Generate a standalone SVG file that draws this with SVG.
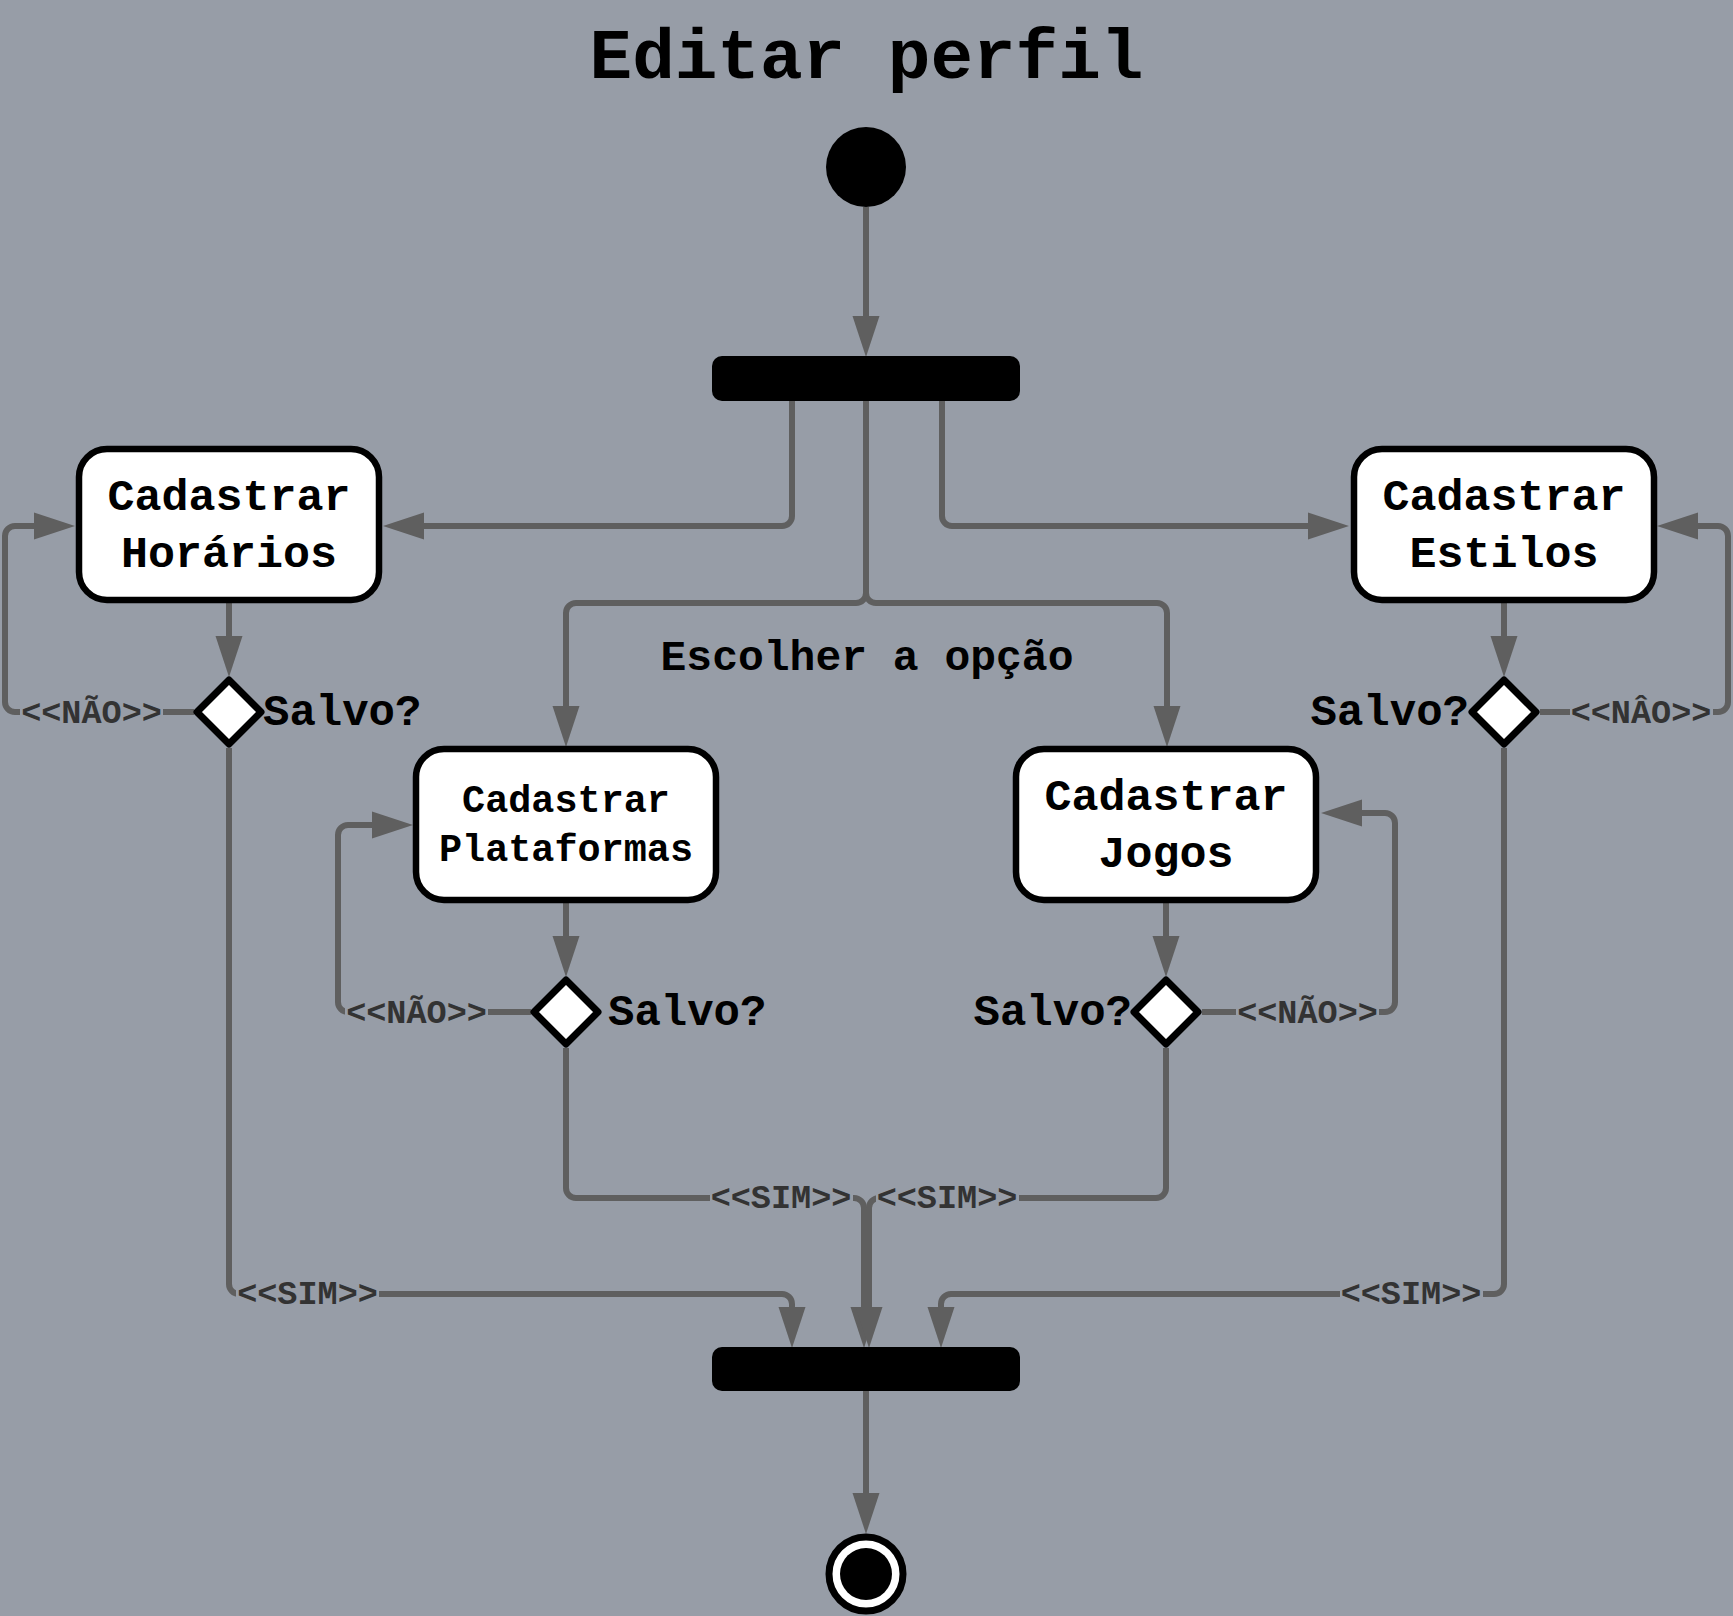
<svg xmlns="http://www.w3.org/2000/svg" width="1733" height="1616" viewBox="0 0 1733 1616">
<style>
.bg{fill:#979da7}
.c{fill:none;stroke:#5f5f5f;stroke-width:6;marker-end:url(#arr)}
.lbl{font-family:"Liberation Mono",monospace;font-weight:bold;font-size:33.5px;fill:#333333;text-anchor:middle}
.box{fill:#ffffff;stroke:#000000;stroke-width:6.5}
.dia{fill:#ffffff;stroke:#000000;stroke-width:7;stroke-linejoin:round}
.t{font-family:"Liberation Mono",monospace;font-weight:bold;font-size:45px;fill:#000000;text-anchor:middle}
.q{font-family:"Liberation Mono",monospace;font-weight:bold;font-size:44px;fill:#000000}
.bar{fill:#000000}
</style>
<defs>
<marker id="arr" markerUnits="userSpaceOnUse" markerWidth="42" markerHeight="28" refX="30" refY="13.5" orient="auto" overflow="visible">
<path d="M0,0 L41,13.5 L0,27 z" fill="#5f5f5f"/>
</marker>
</defs>
<rect class="bg" x="0" y="0" width="1733" height="1616"/>
<text x="866.5" y="78" font-family="Liberation Mono, monospace" font-weight="bold" font-size="71" text-anchor="middle" fill="#000">Editar perfil</text>

<g id="connectors">
<path class="c" d="M866,207 V346"/>
<path class="c" d="M792,401 V516 a10,10 0 0 1 -10,10 H394"/>
<path class="c" d="M942,401 V516 a10,10 0 0 0 10,10 H1338"/>
<path class="c" d="M866,401 V593 a10,10 0 0 1 -10,10 H576 a10,10 0 0 0 -10,10 V736"/>
<path class="c" d="M866,401 V593 a10,10 0 0 0 10,10 H1157 a10,10 0 0 1 10,10 V736"/>
<path class="c" d="M229,603 V666"/>
<path class="c" d="M1504,603 V666"/>
<path class="c" d="M566,903 V966"/>
<path class="c" d="M1166,903 V966"/>
<path class="c" d="M194,712 H15 a10,10 0 0 1 -10,-10 V536 a10,10 0 0 1 10,-10 H64"/>
<path class="c" d="M1540,712 H1718 a10,10 0 0 0 10,-10 V536 a10,10 0 0 0 -10,-10 H1668"/>
<path class="c" d="M531,1012 H348 a10,10 0 0 1 -10,-10 V835 a10,10 0 0 1 10,-10 H402"/>
<path class="c" d="M1202,1012 H1385 a10,10 0 0 0 10,-10 V823 a10,10 0 0 0 -10,-10 H1332"/>
<path class="c" d="M229,748 V1284 a10,10 0 0 0 10,10 H782 a10,10 0 0 1 10,10 V1337"/>
<path class="c" d="M1504,748 V1284 a10,10 0 0 1 -10,10 H951 a10,10 0 0 0 -10,10 V1337"/>
<path class="c" d="M566,1048 V1188 a10,10 0 0 0 10,10 H854 a10,10 0 0 1 10,10 V1337"/>
<path class="c" d="M1166,1048 V1188 a10,10 0 0 1 -10,10 H879 a10,10 0 0 0 -10,10 V1337"/>
<path class="c" d="M866,1391 V1523"/>

<rect class="bg" x="20" y="697" width="143" height="31"/>
<text class="lbl" x="91.5" y="723">&lt;&lt;NÃO&gt;&gt;</text>
<rect class="bg" x="1570" y="697" width="143" height="31"/>
<text class="lbl" x="1641" y="723">&lt;&lt;NÂO&gt;&gt;</text>
<rect class="bg" x="345" y="997" width="143" height="31"/>
<text class="lbl" x="416.5" y="1023">&lt;&lt;NÃO&gt;&gt;</text>
<rect class="bg" x="1236" y="997" width="143" height="31"/>
<text class="lbl" x="1307.5" y="1023">&lt;&lt;NÃO&gt;&gt;</text>
<rect class="bg" x="236" y="1279" width="143" height="31"/>
<text class="lbl" x="307.5" y="1304">&lt;&lt;SIM&gt;&gt;</text>
<rect class="bg" x="710" y="1183" width="143" height="31"/>
<text class="lbl" x="781" y="1208">&lt;&lt;SIM&gt;&gt;</text>
<rect class="bg" x="876" y="1183" width="143" height="31"/>
<text class="lbl" x="947" y="1208">&lt;&lt;SIM&gt;&gt;</text>
<rect class="bg" x="1340" y="1279" width="143" height="31"/>
<text class="lbl" x="1411" y="1304">&lt;&lt;SIM&gt;&gt;</text>
</g>

<text x="867" y="670" font-family="Liberation Mono, monospace" font-weight="bold" font-size="43" text-anchor="middle" fill="#000">Escolher a opção</text>

<g id="start"><circle cx="866" cy="167" r="40" fill="#000"/></g>
<g id="fork"><rect class="bar" x="712" y="356" width="308" height="45" rx="10"/></g>
<g id="join"><rect class="bar" x="712" y="1347" width="308" height="44" rx="10"/></g>
<g id="end">
<circle cx="866" cy="1574" r="37" fill="#fff" stroke="#000" stroke-width="7"/>
<circle cx="866" cy="1574" r="26" fill="#000"/>
</g>

<g id="horarios">
<rect class="box" x="79" y="449" width="300" height="151" rx="28"/>
<text class="t" x="229" y="510">Cadastrar</text>
<text class="t" x="229" y="567">Horários</text>
</g>
<g id="estilos">
<rect class="box" x="1354" y="449" width="300" height="151" rx="28"/>
<text class="t" x="1504" y="510">Cadastrar</text>
<text class="t" x="1504" y="567">Estilos</text>
</g>
<g id="plataformas">
<rect class="box" x="416" y="749" width="300" height="151" rx="28"/>
<text class="t" x="566" y="812" style="font-size:38.5px">Cadastrar</text>
<text class="t" x="566" y="861" style="font-size:38.5px">Plataformas</text>
</g>
<g id="jogos">
<rect class="box" x="1016" y="749" width="300" height="151" rx="28"/>
<text class="t" x="1166" y="810">Cadastrar</text>
<text class="t" x="1166" y="867">Jogos</text>
</g>

<g id="dec-horarios">
<path class="dia" d="M229,680 L261,712 L229,744 L197,712 Z"/>
<text class="q" x="263" y="725">Salvo?</text>
</g>
<g id="dec-estilos">
<path class="dia" d="M1504,680 L1536,712 L1504,744 L1472,712 Z"/>
<text class="q" x="1469" y="725" text-anchor="end">Salvo?</text>
</g>
<g id="dec-plataformas">
<path class="dia" d="M566,980 L598,1012 L566,1044 L534,1012 Z"/>
<text class="q" x="608" y="1025">Salvo?</text>
</g>
<g id="dec-jogos">
<path class="dia" d="M1166,980 L1198,1012 L1166,1044 L1134,1012 Z"/>
<text class="q" x="1132" y="1025" text-anchor="end">Salvo?</text>
</g>
</svg>
